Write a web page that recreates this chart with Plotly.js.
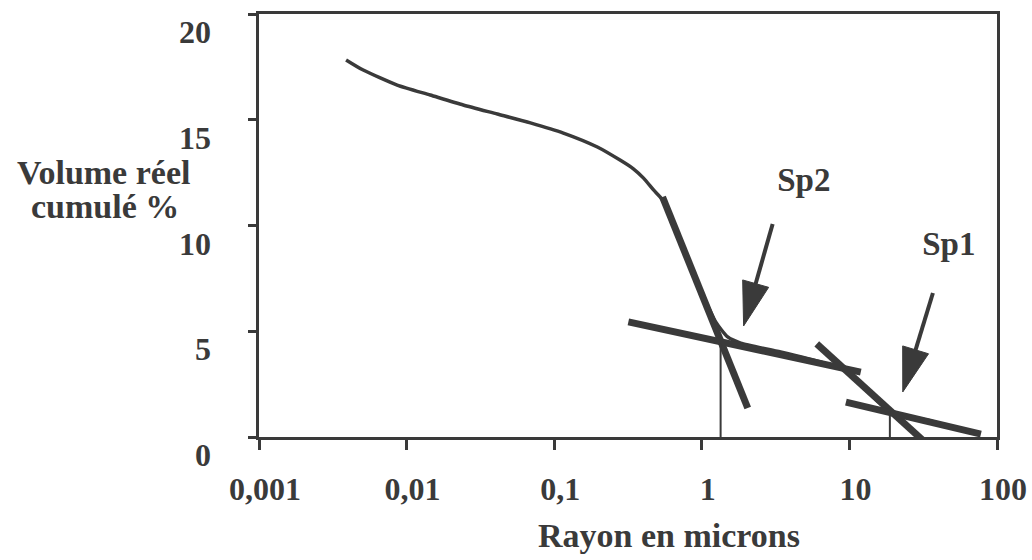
<!DOCTYPE html>
<html>
<head>
<meta charset="utf-8">
<script src="https://cdn.plot.ly/plotly-3.0.1.min.js"></script>
<style>
  html, body { margin: 0; padding: 0; background: #fff; }
  #chart { width: 1032px; height: 560px; }
</style>
</head>
<body>
<div id="chart"></div>
<script>
// Cumulative real volume (%) versus pore radius (microns), log scale
const curveRadius = [0.00389, 0.00508, 0.00863, 0.01445, 0.0242, 0.0412, 0.0690, 0.1154, 0.196,
  0.281, 0.344, 0.403, 0.471, 0.542, 0.753, 0.982, 1.242, 1.497, 1.834, 3.42, 6.70, 9.16,
  12.92, 18.8, 35.6, 72.1];
const curveVolume = [17.83, 17.35, 16.64, 16.17, 15.70, 15.27, 14.85, 14.37, 13.71,
  13.08, 12.68, 12.24, 11.68, 11.21, 8.84, 6.95, 5.44, 4.73, 4.44, 4.02, 3.50, 3.17,
  2.22, 1.23, 0.76, 0.14];

// Tangent lines used to locate the two breaks
const sp2SteepRadius = [0.542, 2.047];
const sp2SteepVolume = [11.35, 1.37];
const sp2FlatRadius = [0.318, 11.94];
const sp2FlatVolume = [5.44, 3.07];
const sp1SteepRadius = [6.01, 33.5];
const sp1SteepVolume = [4.40, -0.33];
const sp1FlatRadius = [9.47, 77.8];
const sp1FlatVolume = [1.65, 0.14];

// Break radii (vertical drop lines) and their volumes
const breakRadius = [1.341, 18.8];
const breakVolume = [4.44, 1.23];

// Labels and their arrows
const breakNames = ['Sp2', 'Sp1'];
const labelRadius = [4.91, 47.2];
const labelVolume = [12.0, 8.98];
const arrowTailRadius = [3.02, 36.8];
const arrowTailVolume = [10.07, 6.81];
const arrowTipRadius = [1.92, 23.0];
const arrowTipVolume = [5.25, 2.13];

const xTickVals = [0.001, 0.01, 0.1, 1, 10, 100];
const xTickText = ['0,001', '0,01', '0,1', '1', '10', '100'];
const yTickVals = [0, 5, 10, 15, 20];
const yTickText = ['0', '5', '10', '15', '20'];

const W = 1032, H = 560;
const M = { l: 259, r: 35, t: 14, b: 123 };
const xRange = [-3, 2];
const yRange = [0, 20];
const INK = '#3a3a3a';
const FONT = 'Liberation Serif, Times New Roman, serif';

const pw = W - M.l - M.r, ph = H - M.t - M.b;
const xToPx = v => M.l + (Math.log10(v) - xRange[0]) / (xRange[1] - xRange[0]) * pw;
const yToPx = v => M.t + (1 - (v - yRange[0]) / (yRange[1] - yRange[0])) * ph;
const pxToX = p => Math.pow(10, xRange[0] + (p - M.l) / pw * (xRange[1] - xRange[0]));
const pxToY = p => yRange[0] + (1 - (p - M.t) / ph) * (yRange[1] - yRange[0]);

// Arrow built in screen space: shaft up to the head base, then a narrow filled head
function arrowTraces(tr, tv, hr, hv) {
  const headLen = 44, headWidth = 27;
  const x0 = xToPx(tr), y0 = yToPx(tv), x1 = xToPx(hr), y1 = yToPx(hv);
  const len = Math.hypot(x1 - x0, y1 - y0);
  const ux = (x1 - x0) / len, uy = (y1 - y0) / len;
  const nx = -uy, ny = ux;
  const bx = x1 - ux * headLen, by = y1 - uy * headLen;
  const c1 = [bx + nx * headWidth / 2, by + ny * headWidth / 2];
  const c2 = [bx - nx * headWidth / 2, by - ny * headWidth / 2];
  return [
    { x: [tr, pxToX(bx + ux * 4)], y: [tv, pxToY(by + uy * 4)], mode: 'lines',
      line: { color: INK, width: 4 }, hoverinfo: 'skip' },
    { x: [pxToX(c1[0]), hr, pxToX(c2[0]), pxToX(c1[0])],
      y: [pxToY(c1[1]), hv, pxToY(c2[1]), pxToY(c1[1])],
      mode: 'lines', fill: 'toself', fillcolor: INK, line: { color: INK, width: 1 },
      hoverinfo: 'skip' }
  ];
}

const thick = { color: INK, width: 7 };
const traces = [
  { x: curveRadius, y: curveVolume, mode: 'lines', line: { color: INK, width: 3.5, shape: 'spline', smoothing: 0.6 } },
  { x: sp2SteepRadius, y: sp2SteepVolume, mode: 'lines', line: thick },
  { x: sp2FlatRadius, y: sp2FlatVolume, mode: 'lines', line: thick },
  { x: sp1SteepRadius, y: sp1SteepVolume, mode: 'lines', line: thick },
  { x: sp1FlatRadius, y: sp1FlatVolume, mode: 'lines', line: thick }
];
breakRadius.forEach((r, i) => {
  traces.push({ x: [r, r], y: [0, breakVolume[i]], mode: 'lines', line: { color: INK, width: 2 } });
});
breakNames.forEach((name, i) => {
  traces.push(...arrowTraces(arrowTailRadius[i], arrowTailVolume[i], arrowTipRadius[i], arrowTipVolume[i]));
  traces.push({ x: [labelRadius[i]], y: [labelVolume[i]], mode: 'text', text: [name],
    textposition: 'middle center', cliponaxis: false,
    textfont: { family: FONT, size: 33, weight: 700, color: INK } });
});

const tickFont = { family: FONT, size: 32, weight: 700, color: INK };
const titleFont = { family: FONT, size: 34, weight: 700, color: INK };

// y tick labels sit a little below their ticks, so they are drawn as paper annotations
const yLabelAnnotations = yTickVals.map((v, i) => ({
  text: yTickText[i], xref: 'paper', yref: 'y', x: (213 - M.l) / pw, y: v,
  xanchor: 'right', yanchor: 'middle', yshift: -18, showarrow: false, font: tickFont
}));

const layout = {
  width: W, height: H,
  margin: M,
  paper_bgcolor: '#fff', plot_bgcolor: '#fff',
  showlegend: false,
  xaxis: {
    type: 'log', range: xRange,
    tickvals: xTickVals, ticktext: xTickText,
    ticks: 'outside', ticklen: 10, tickwidth: 3, tickcolor: INK,
    showline: true, linewidth: 3, linecolor: INK, mirror: true,
    showgrid: false, zeroline: false,
    tickfont: tickFont, ticklabelstandoff: 12, ticklabelshift: 6
  },
  yaxis: {
    range: yRange,
    tickvals: yTickVals, showticklabels: false,
    ticks: 'outside', ticklen: 8, tickwidth: 3, tickcolor: INK,
    showline: true, linewidth: 3, linecolor: INK, mirror: true,
    showgrid: false, zeroline: false
  },
  annotations: yLabelAnnotations.concat([
    { text: 'Volume réel', xref: 'paper', yref: 'paper', x: (103 - M.l) / pw, y: 1 - (172 - M.t) / ph,
      xanchor: 'center', yanchor: 'middle', showarrow: false, font: titleFont },
    { text: 'cumulé %', xref: 'paper', yref: 'paper', x: (105 - M.l) / pw, y: 1 - (206 - M.t) / ph,
      xanchor: 'center', yanchor: 'middle', showarrow: false, font: titleFont },
    { text: 'Rayon en microns', xref: 'paper', yref: 'paper', x: (669 - M.l) / pw, y: 1 - (535 - M.t) / ph,
      xanchor: 'center', yanchor: 'middle', showarrow: false, font: titleFont }
  ])
};

Plotly.newPlot('chart', traces, layout, { displayModeBar: false, staticPlot: true });
</script>
</body>
</html>
